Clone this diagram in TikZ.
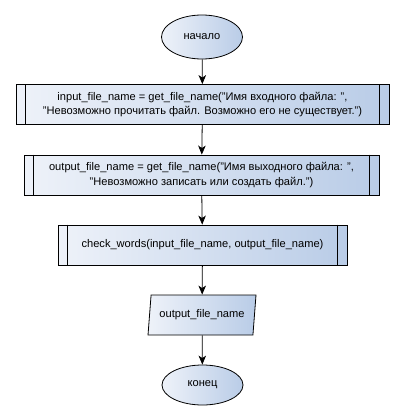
\documentclass[tikz,border=0pt]{standalone}
\usepackage{fontspec}
\setmainfont{Liberation Sans}
\usetikzlibrary{shapes.geometric,arrows.meta}

\definecolor{shadeL}{HTML}{EEF2F9}
\definecolor{shadeR}{HTML}{B9CCE7}

\tikzset{
  blockfill/.style={draw=black, line width=0.8pt, left color=shadeL, right color=shadeR, font=\fontsize{11.1}{14.5}\selectfont, align=center, inner sep=1pt},
  terminal/.style={blockfill, ellipse, minimum width=81pt, minimum height=44pt},
  procbox/.style={blockfill, rectangle, minimum height=40pt},
  iobox/.style={blockfill, trapezium, trapezium left angle=76, trapezium right angle=104, trapezium stretches body, minimum width=108pt, minimum height=40pt},
  flow/.style={-{Stealth[length=9pt,width=7.5pt,inset=2.5pt]}, line width=0.8pt}
}

\newcommand{\sidebars}[1]{
  \draw[line width=0.8pt] ([xshift=10pt]#1.north west) -- ([xshift=10pt]#1.south west);
  \draw[line width=0.8pt] ([xshift=-10pt]#1.north east) -- ([xshift=-10pt]#1.south east);
}

\begin{document}
\begin{tikzpicture}[x=1pt,y=-1pt]
\useasboundingbox (0,0) rectangle (404,420);

\node[terminal] (start) at (202,37) {начало};
\node[procbox, minimum width=373pt] (inname) at (202.5,104.5) {input\_file\_name = get\_file\_name("Имя входного файла: ",\\"Невозможно прочитать файл. Возможно его не существует.")};
\node[procbox, minimum width=355pt] (outname) at (201.5,175) {output\_file\_name = get\_file\_name("Имя выходного файла: ",\\"Невозможно записать или создать файл.")};
\node[procbox, minimum width=289pt] (check) at (202.5,245) {check\_words(input\_file\_name, output\_file\_name)};
\node[iobox] (out) at (202,315) {output\_file\_name};
\node[terminal, minimum height=40pt] (stop) at (202.5,385) {конец};

\sidebars{inname}
\sidebars{outname}
\sidebars{check}

\draw[flow] (start) -- (inname);
\draw[flow] (inname) -- (outname);
\draw[flow] (outname) -- (check);
\draw[flow] (check) -- (out);
\draw[flow] (out) -- (stop);
\end{tikzpicture}
\end{document}
